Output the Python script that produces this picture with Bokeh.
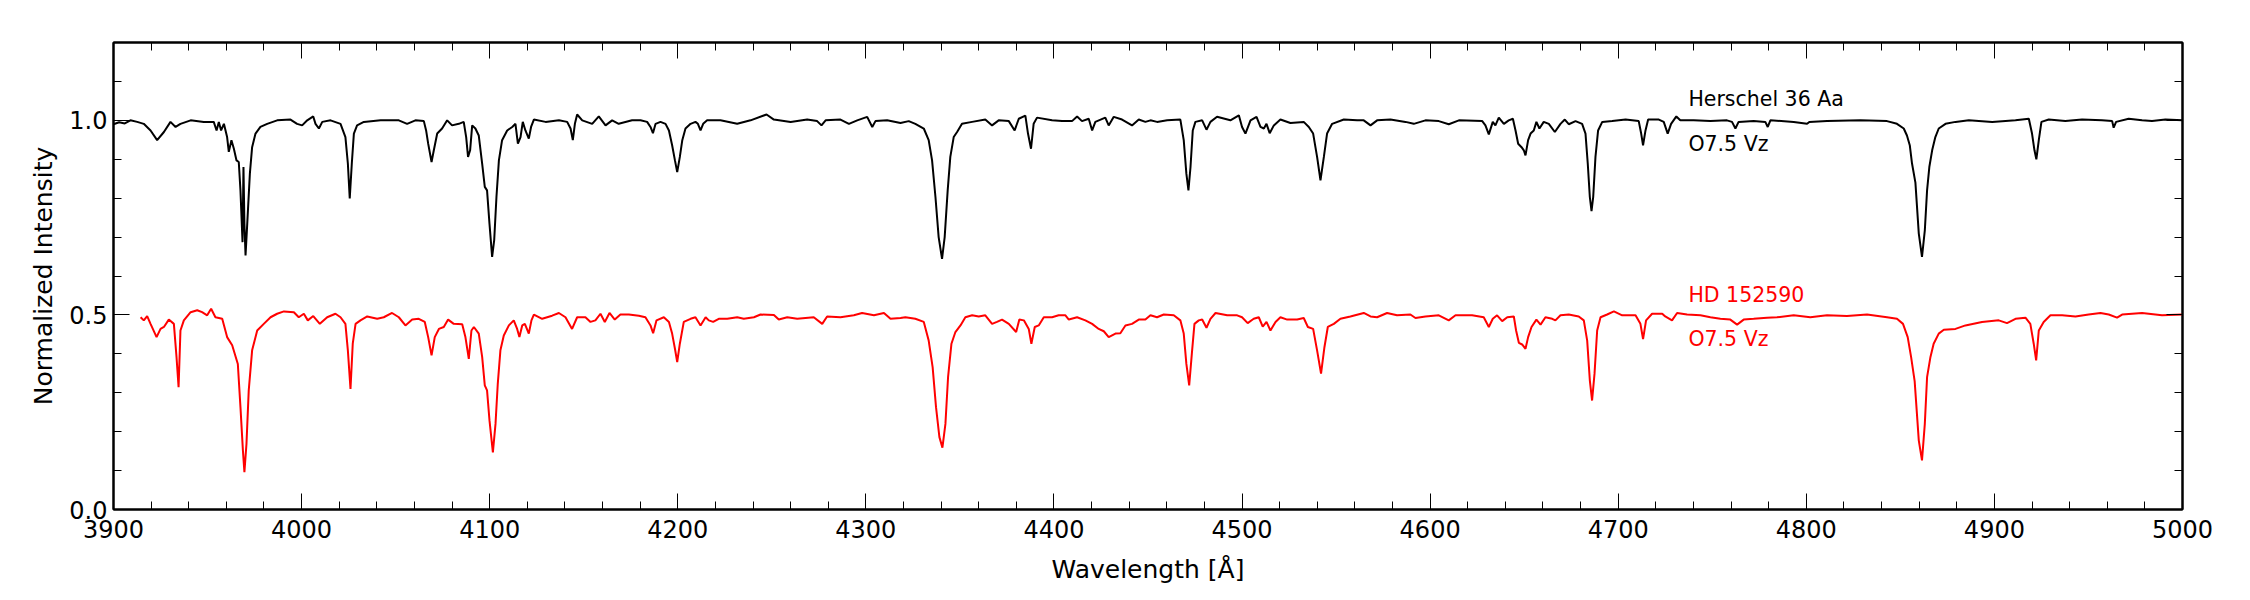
from bokeh.plotting import figure
from bokeh.models import Range1d, LinearAxis, SingleIntervalTicker, ColumnDataSource, PrintfTickFormatter
from bokeh.embed import file_html
from bokeh.resources import INLINE
from bokeh.core.properties import value

# ---------------- data ----------------
herschel_wl = [
    3900.0, 3903.0, 3906.0, 3909.0, 3912.6, 3916.1, 3919.7, 3923.2, 3926.8, 3930.3,
    3933.0, 3935.6, 3941.0, 3948.0, 3953.3, 3954.8, 3956.0, 3957.2, 3958.7, 3960.4,
    3961.3, 3962.7, 3964.0, 3965.4, 3966.6, 3967.5, 3968.6, 3969.1, 3969.6, 3970.2,
    3971.1, 3972.5, 3973.7, 3975.5, 3978.1, 3981.7, 3987.0, 3994.1, 3997.6, 4000.3,
    4003.0, 4006.2, 4007.4, 4009.2, 4011.0, 4015.4, 4020.7, 4023.3, 4024.6, 4025.6,
    4026.7, 4027.8, 4029.5, 4033.1, 4042.0, 4051.7, 4056.1, 4060.5, 4065.0, 4066.2,
    4067.3, 4069.1, 4070.3, 4072.1, 4074.7, 4077.4, 4080.0, 4083.6, 4086.2, 4087.5,
    4088.5, 4089.6, 4090.7, 4092.4, 4094.2, 4096.0, 4097.4, 4098.6, 4099.9, 4101.3,
    4102.4, 4103.6, 4104.9, 4106.6, 4109.3, 4112.0, 4113.7, 4115.0, 4116.4, 4117.6,
    4119.0, 4120.8, 4122.0, 4123.5, 4129.7, 4136.8, 4141.2, 4143.0, 4144.2, 4145.3,
    4146.5, 4149.2, 4154.5, 4158.0, 4161.6, 4165.1, 4168.6, 4175.7, 4180.2, 4183.7,
    4185.5, 4186.8, 4188.2, 4190.8, 4193.5, 4195.3, 4197.0, 4198.5, 4199.7, 4201.1,
    4202.4, 4204.1, 4206.8, 4209.4, 4210.7, 4212.1, 4213.5, 4215.6, 4222.7, 4231.6,
    4238.7, 4247.2, 4251.1, 4260.0, 4268.8, 4274.1, 4276.4, 4278.6, 4286.5, 4291.0,
    4295.4, 4300.7, 4303.4, 4305.1, 4311.3, 4318.4, 4322.8, 4326.3, 4330.8, 4333.4,
    4335.2, 4337.0, 4338.7, 4340.5, 4341.9, 4343.5, 4344.9, 4346.7, 4348.5, 4351.1,
    4356.5, 4363.5, 4367.1, 4370.6, 4376.0, 4379.1, 4381.3, 4384.8, 4386.2, 4387.8,
    4389.2, 4391.0, 4399.0, 4404.3, 4409.6, 4412.3, 4414.9, 4418.5, 4420.3, 4422.0,
    4427.3, 4429.1, 4431.8, 4436.2, 4441.5, 4445.1, 4448.6, 4451.3, 4454.8, 4460.2,
    4467.2, 4469.0, 4470.4, 4471.5, 4472.6, 4473.8, 4475.2, 4478.8, 4481.1, 4483.2,
    4486.7, 4493.8, 4498.3, 4500.0, 4501.8, 4504.5, 4507.7, 4509.8, 4511.6, 4513.0,
    4514.7, 4516.9, 4520.4, 4525.7, 4532.8, 4535.5, 4537.8, 4539.9, 4541.7, 4543.5,
    4545.2, 4547.9, 4554.1, 4561.2, 4564.7, 4568.3, 4571.8, 4578.9, 4586.9, 4591.3,
    4597.5, 4604.6, 4609.9, 4615.3, 4627.7, 4629.4, 4631.2, 4633.3, 4634.7, 4636.5,
    4639.2, 4641.8, 4644.0, 4645.4, 4646.8, 4648.6, 4649.8, 4650.7, 4652.1, 4653.4,
    4655.1, 4656.5, 4658.1, 4660.4, 4663.1, 4666.3, 4669.3, 4671.6, 4673.7, 4677.3,
    4680.8, 4682.6, 4683.8, 4684.9, 4685.8, 4686.7, 4687.9, 4689.3, 4691.5, 4696.8,
    4703.9, 4710.9, 4712.2, 4713.2, 4714.5, 4715.9, 4721.6, 4724.2, 4726.3, 4728.1,
    4730.9, 4733.0, 4740.1, 4749.0, 4757.8, 4760.5, 4762.3, 4764.0, 4772.0, 4778.2,
    4779.5, 4780.9, 4793.3, 4800.4, 4801.6, 4811.0, 4828.7, 4842.9, 4848.2, 4851.8,
    4853.5, 4855.0, 4856.2, 4858.0, 4859.8, 4861.5, 4863.0, 4864.2, 4865.4, 4866.9,
    4868.6, 4870.4, 4874.0, 4879.3, 4886.4, 4898.8, 4911.2, 4918.3, 4920.0, 4921.3,
    4922.3, 4923.6, 4925.0, 4928.9, 4937.7, 4946.6, 4957.2, 4962.6, 4963.4, 4964.7,
    4971.4, 4978.5, 4983.8, 4990.9, 5000.0,
]
herschel_flux = [
    0.990, 0.995, 0.992, 1.000, 0.996, 0.991, 0.974, 0.949, 0.970, 0.996,
    0.983, 0.991, 1.000, 0.996, 0.996, 0.974, 0.996, 0.974, 0.991, 0.957,
    0.919, 0.949, 0.927, 0.897, 0.893, 0.820, 0.687, 0.880, 0.734, 0.653,
    0.734, 0.863, 0.931, 0.966, 0.983, 0.991, 1.000, 1.002, 0.991, 0.987,
    1.000, 1.010, 0.991, 0.979, 0.996, 1.000, 0.991, 0.957, 0.889, 0.799,
    0.889, 0.966, 0.987, 0.996, 1.000, 1.000, 0.991, 1.000, 0.998, 0.974,
    0.940, 0.893, 0.923, 0.966, 0.979, 1.000, 0.987, 0.991, 0.996, 0.957,
    0.906, 0.923, 0.987, 0.979, 0.961, 0.889, 0.829, 0.820, 0.734, 0.649,
    0.692, 0.803, 0.897, 0.949, 0.974, 0.983, 0.991, 0.940, 0.957, 0.996,
    0.974, 0.953, 0.983, 1.002, 0.996, 1.000, 0.996, 0.979, 0.949, 0.991,
    1.015, 1.000, 0.991, 1.010, 0.987, 1.000, 0.991, 1.000, 1.000, 0.996,
    0.983, 0.967, 0.991, 0.996, 0.991, 0.974, 0.936, 0.897, 0.867, 0.906,
    0.949, 0.979, 0.991, 0.996, 0.991, 0.974, 0.991, 1.000, 1.000, 0.991,
    1.000, 1.015, 1.002, 0.996, 1.002, 0.998, 0.987, 1.000, 1.002, 0.991,
    1.000, 1.009, 0.983, 0.998, 1.000, 0.993, 0.998, 0.991, 0.979, 0.949,
    0.897, 0.803, 0.700, 0.644, 0.700, 0.820, 0.906, 0.957, 0.970, 0.991,
    0.996, 1.002, 0.987, 1.000, 0.998, 0.974, 1.004, 1.012, 0.966, 0.927,
    0.991, 1.007, 1.000, 0.998, 0.998, 1.010, 0.998, 1.004, 0.974, 0.996,
    1.007, 0.987, 1.009, 1.002, 0.987, 1.002, 0.996, 1.000, 0.996, 1.000,
    1.002, 0.949, 0.863, 0.820, 0.880, 0.974, 0.996, 1.000, 0.976, 0.996,
    1.009, 1.000, 1.013, 0.983, 0.966, 1.000, 1.009, 0.983, 0.979, 0.991,
    0.967, 0.987, 1.002, 0.993, 0.996, 0.983, 0.966, 0.906, 0.846, 0.906,
    0.966, 0.991, 1.002, 1.000, 1.000, 0.987, 1.000, 1.002, 0.996, 0.991,
    1.000, 0.998, 0.990, 1.000, 0.998, 0.987, 0.964, 0.996, 0.987, 1.007,
    0.991, 1.000, 1.004, 0.974, 0.940, 0.931, 0.923, 0.910, 0.949, 0.966,
    0.974, 0.996, 0.979, 0.996, 0.991, 0.970, 0.991, 1.002, 0.990, 0.998,
    0.991, 0.966, 0.889, 0.803, 0.767, 0.803, 0.906, 0.974, 0.996, 0.998,
    1.002, 0.998, 0.966, 0.936, 0.974, 1.002, 1.002, 0.996, 0.966, 0.991,
    1.010, 1.000, 1.000, 0.998, 1.000, 0.996, 0.979, 0.996, 0.998, 0.996,
    0.983, 1.000, 0.996, 0.991, 0.996, 0.998, 1.000, 0.998, 0.991, 0.979,
    0.961, 0.936, 0.889, 0.840, 0.709, 0.649, 0.717, 0.820, 0.880, 0.923,
    0.957, 0.979, 0.991, 0.996, 1.000, 0.996, 1.000, 1.004, 0.966, 0.923,
    0.900, 0.949, 0.996, 1.002, 0.998, 1.002, 1.000, 0.998, 0.981, 0.996,
    1.004, 1.000, 0.998, 1.002, 1.000,
]

hd_wl = [
    3914.4, 3916.1, 3917.9, 3919.7, 3922.9, 3925.0, 3926.8, 3929.4, 3932.1, 3933.5,
    3934.6, 3935.6, 3937.4, 3941.0, 3944.5, 3947.1, 3949.8, 3951.9, 3954.2, 3957.8,
    3960.4, 3963.1, 3966.1, 3967.5, 3968.8, 3969.6, 3970.7, 3971.9, 3973.7, 3976.4,
    3979.9, 3983.5, 3987.0, 3990.6, 3995.9, 3998.5, 4001.2, 4003.3, 4006.2, 4009.7,
    4013.6, 4018.0, 4020.7, 4023.3, 4024.6, 4026.0, 4027.2, 4028.7, 4031.3, 4034.9,
    4040.2, 4043.7, 4048.1, 4051.7, 4055.2, 4058.8, 4062.3, 4065.5, 4067.3, 4069.1,
    4070.8, 4073.0, 4075.6, 4077.9, 4080.9, 4085.4, 4087.1, 4088.9, 4090.3, 4091.6,
    4094.2, 4096.0, 4097.4, 4098.6, 4099.9, 4101.7, 4103.1, 4104.3, 4105.7, 4107.5,
    4110.2, 4112.8, 4114.6, 4115.8, 4117.3, 4118.7, 4120.8, 4122.2, 4123.5, 4127.9,
    4133.2, 4136.8, 4140.3, 4143.8, 4146.5, 4150.9, 4153.6, 4156.2, 4158.9, 4161.2,
    4163.7, 4166.5, 4169.5, 4174.0, 4179.3, 4182.8, 4185.5, 4186.9, 4188.7, 4192.6,
    4195.3, 4197.0, 4198.5, 4199.7, 4201.1, 4203.2, 4206.8, 4209.4, 4212.1, 4214.8,
    4216.5, 4218.8, 4221.8, 4226.3, 4231.6, 4235.1, 4240.5, 4244.0, 4251.1, 4253.7,
    4258.2, 4263.5, 4272.3, 4276.8, 4279.4, 4286.5, 4293.6, 4298.0, 4304.3, 4309.6,
    4313.1, 4318.4, 4321.0, 4326.3, 4330.8, 4333.4, 4335.5, 4337.3, 4339.1, 4340.7,
    4342.3, 4343.7, 4345.5, 4347.6, 4350.3, 4352.9, 4356.5, 4360.0, 4363.5, 4367.1,
    4369.7, 4372.4, 4376.0, 4379.9, 4381.6, 4384.0, 4386.6, 4388.0, 4389.8, 4391.9,
    4394.6, 4399.0, 4402.5, 4406.1, 4407.9, 4412.3, 4416.7, 4420.3, 4423.8, 4426.5,
    4429.1, 4432.7, 4435.3, 4438.0, 4441.5, 4445.1, 4448.6, 4451.3, 4454.8, 4458.4,
    4463.7, 4467.2, 4469.0, 4470.4, 4471.9, 4473.3, 4474.7, 4477.0, 4478.8, 4481.1,
    4483.2, 4485.9, 4492.1, 4497.4, 4500.0, 4503.0, 4506.2, 4508.9, 4511.0, 4513.0,
    4515.1, 4517.8, 4520.4, 4524.0, 4529.3, 4532.8, 4535.0, 4537.8, 4539.9, 4542.0,
    4543.8, 4545.6, 4548.8, 4552.3, 4557.6, 4564.7, 4568.3, 4571.8, 4577.1, 4582.4,
    4589.5, 4592.2, 4597.5, 4604.6, 4609.9, 4613.5, 4622.3, 4628.5, 4631.2, 4633.3,
    4635.6, 4638.3, 4641.0, 4644.5, 4645.7, 4647.2, 4648.9, 4650.7, 4652.1, 4653.9,
    4656.5, 4658.7, 4661.3, 4664.9, 4666.6, 4669.3, 4673.7, 4679.0, 4681.7, 4683.5,
    4684.9, 4686.1, 4687.4, 4688.8, 4690.6, 4694.1, 4697.7, 4702.1, 4709.2, 4711.8,
    4713.2, 4714.8, 4718.0, 4723.4, 4725.0, 4728.6, 4731.3, 4736.6, 4743.7, 4749.0,
    4754.3, 4759.6, 4763.2, 4766.7, 4772.0, 4779.1, 4784.4, 4793.3, 4802.1, 4811.0,
    4821.6, 4832.3, 4842.9, 4848.2, 4851.4, 4853.9, 4855.7, 4857.6, 4859.8, 4861.5,
    4863.0, 4864.2, 4866.0, 4867.7, 4870.4, 4873.1, 4879.3, 4884.6, 4893.4, 4902.3,
    4906.7, 4911.2, 4916.5, 4919.1, 4920.9, 4922.2, 4923.6, 4926.2, 4929.8, 4936.0,
    4943.1, 4950.1, 4956.4, 4960.8, 4965.2, 4967.9, 4978.5, 4989.1, 5000.0,
]
hd_flux = [
    0.494, 0.486, 0.497, 0.477, 0.443, 0.464, 0.469, 0.488, 0.477, 0.392,
    0.314, 0.460, 0.486, 0.507, 0.512, 0.507, 0.499, 0.516, 0.494, 0.490,
    0.443, 0.422, 0.374, 0.263, 0.152, 0.096, 0.169, 0.306, 0.409, 0.460,
    0.477, 0.494, 0.503, 0.509, 0.507, 0.494, 0.503, 0.486, 0.497, 0.477,
    0.494, 0.503, 0.494, 0.477, 0.409, 0.310, 0.426, 0.477, 0.486, 0.496,
    0.490, 0.494, 0.505, 0.494, 0.473, 0.488, 0.490, 0.482, 0.443, 0.396,
    0.443, 0.464, 0.469, 0.488, 0.477, 0.476, 0.443, 0.387, 0.460, 0.469,
    0.452, 0.392, 0.319, 0.306, 0.229, 0.147, 0.220, 0.323, 0.409, 0.447,
    0.473, 0.486, 0.464, 0.443, 0.473, 0.477, 0.452, 0.486, 0.501, 0.490,
    0.498, 0.505, 0.494, 0.464, 0.494, 0.494, 0.482, 0.486, 0.503, 0.482,
    0.505, 0.488, 0.501, 0.501, 0.498, 0.494, 0.473, 0.453, 0.486, 0.494,
    0.482, 0.452, 0.413, 0.379, 0.426, 0.482, 0.490, 0.494, 0.473, 0.494,
    0.486, 0.482, 0.490, 0.490, 0.494, 0.490, 0.494, 0.501, 0.500, 0.488,
    0.494, 0.490, 0.494, 0.477, 0.496, 0.494, 0.499, 0.505, 0.499, 0.505,
    0.490, 0.492, 0.494, 0.490, 0.482, 0.434, 0.366, 0.263, 0.186, 0.159,
    0.220, 0.340, 0.426, 0.456, 0.473, 0.494, 0.499, 0.496, 0.499, 0.477,
    0.482, 0.488, 0.477, 0.456, 0.488, 0.486, 0.464, 0.426, 0.469, 0.473,
    0.494, 0.494, 0.499, 0.499, 0.488, 0.494, 0.486, 0.477, 0.464, 0.458,
    0.443, 0.452, 0.453, 0.473, 0.477, 0.488, 0.488, 0.499, 0.494, 0.501,
    0.499, 0.486, 0.452, 0.374, 0.319, 0.400, 0.477, 0.486, 0.488, 0.467,
    0.490, 0.505, 0.499, 0.499, 0.494, 0.479, 0.490, 0.494, 0.470, 0.482,
    0.460, 0.482, 0.494, 0.488, 0.488, 0.492, 0.469, 0.464, 0.409, 0.349,
    0.417, 0.469, 0.477, 0.490, 0.496, 0.505, 0.496, 0.494, 0.505, 0.499,
    0.501, 0.492, 0.496, 0.499, 0.486, 0.499, 0.499, 0.494, 0.469, 0.490,
    0.499, 0.484, 0.494, 0.496, 0.460, 0.428, 0.424, 0.413, 0.443, 0.469,
    0.488, 0.475, 0.494, 0.490, 0.486, 0.499, 0.501, 0.496, 0.486, 0.434,
    0.332, 0.280, 0.349, 0.460, 0.494, 0.501, 0.509, 0.499, 0.499, 0.477,
    0.438, 0.486, 0.503, 0.503, 0.496, 0.486, 0.505, 0.501, 0.499, 0.494,
    0.490, 0.488, 0.475, 0.488, 0.490, 0.493, 0.494, 0.499, 0.494, 0.499,
    0.497, 0.501, 0.494, 0.490, 0.477, 0.443, 0.392, 0.330, 0.177, 0.126,
    0.220, 0.340, 0.392, 0.426, 0.452, 0.462, 0.464, 0.473, 0.482, 0.486,
    0.479, 0.490, 0.493, 0.477, 0.426, 0.383, 0.460, 0.482, 0.499, 0.499,
    0.496, 0.501, 0.505, 0.501, 0.493, 0.501, 0.505, 0.499, 0.501,
]

label_text = ["Herschel 36 Aa", "O7.5 Vz", "HD 152590", "O7.5 Vz"]
label_x = [4737.3, 4737.3, 4737.3, 4737.3]
label_y = [1.054, 0.938, 0.552, 0.437]
label_color = ["black", "black", "red", "red"]

x_title = "Wavelength [Å]"
y_title = "Normalized Intensity"

# ---------------- figure ----------------
FONT = "DejaVu Sans"

p = figure(width=2250, height=600, output_backend="svg", toolbar_location=None,
           x_range=Range1d(3900, 5000), y_range=Range1d(0, 1.2),
           min_border_left=113, min_border_right=68,
           min_border_top=42, min_border_bottom=91,
           background_fill_color="white", border_fill_color="white")
p.grid.visible = False
p.outline_line_color = "black"
p.outline_line_width = 2

p.line(herschel_wl, herschel_flux, line_color="black", line_width=2)
p.line(hd_wl, hd_flux, line_color="red", line_width=2)

src = ColumnDataSource(dict(x=label_x, y=label_y, t=label_text, c=label_color))
p.text(x="x", y="y", text="t", text_color="c", source=src,
       text_font=value(FONT), text_font_size="20.5px",
       text_align="left", text_baseline="alphabetic")


def style_axis(ax, ticker, show_labels):
    ax.ticker = ticker
    ax.axis_line_color = "black"
    ax.axis_line_width = 2
    ax.major_tick_line_color = "black"
    ax.minor_tick_line_color = "black"
    ax.major_tick_line_width = 1
    ax.minor_tick_line_width = 1
    ax.major_tick_in = 16
    ax.major_tick_out = 0
    ax.minor_tick_in = 8
    ax.minor_tick_out = 0
    ax.major_label_text_font = FONT
    if show_labels:
        ax.major_label_text_font_size = "24px"
        ax.major_label_text_color = "black"
    else:
        ax.major_label_text_font_size = "0px"
        ax.major_label_text_color = None


xt = SingleIntervalTicker(interval=100, num_minor_ticks=5)
yt = SingleIntervalTicker(interval=0.5, num_minor_ticks=5)

xaxis = p.xaxis[0]
style_axis(xaxis, xt, True)
xaxis.major_label_standoff = 10
xaxis.axis_label = x_title
xaxis.axis_label_text_font = FONT
xaxis.axis_label_text_font_size = "25px"
xaxis.axis_label_text_font_style = "normal"
xaxis.axis_label_text_color = "black"
xaxis.axis_label_standoff = 14

yaxis = p.yaxis[0]
style_axis(yaxis, yt, True)
yaxis.formatter = PrintfTickFormatter(format="%.1f")
yaxis.major_label_standoff = 6
yaxis.axis_label = y_title
yaxis.axis_label_text_font = FONT
yaxis.axis_label_text_font_size = "25px"
yaxis.axis_label_text_font_style = "normal"
yaxis.axis_label_text_color = "black"
yaxis.axis_label_standoff = 8

top = LinearAxis()
style_axis(top, SingleIntervalTicker(interval=100, num_minor_ticks=5), False)
p.add_layout(top, "above")
right = LinearAxis()
style_axis(right, SingleIntervalTicker(interval=0.5, num_minor_ticks=5), False)
p.add_layout(right, "right")

open("out.html", "w").write(file_html(p, INLINE))
